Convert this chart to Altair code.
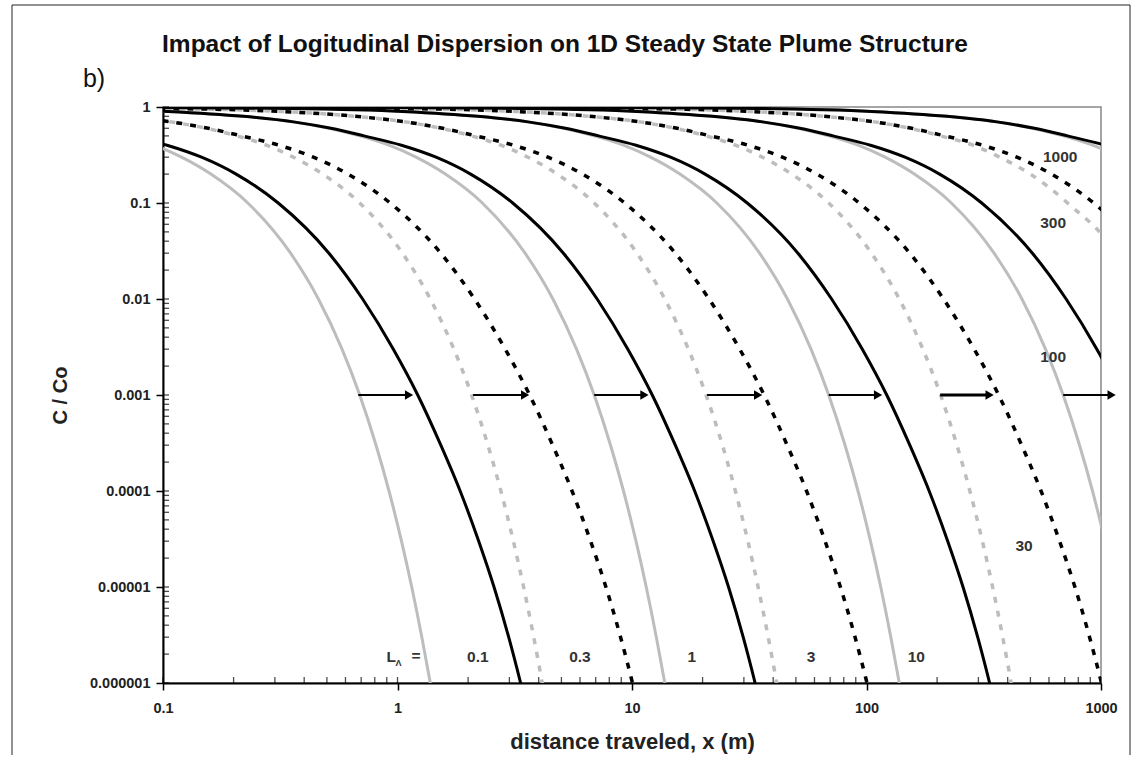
import altair as alt
import pandas as pd

# C/Co levels at which each curve's x-position was read
Y_LEVELS = [0.9999, 0.999, 0.99, 0.97, 0.9, 0.8, 0.7, 0.6, 0.5, 0.4, 0.3, 0.2, 0.1,
            0.03, 0.01, 3e-3, 1e-3, 3e-4, 1e-4, 3e-5, 1e-5, 3e-6, 1e-6, 3e-7]

L_NAMES = ["0.1", "0.3", "1", "3", "10", "30", "100", "300", "1000"]
L_DASHED = [False, True, False, True, False, True, False, True, False]

# grey curves (no dispersion), x at each Y level
GRAY_X = {
    "0.1": [0.00001, 0.0001, 0.001, 0.003, 0.0105, 0.022, 0.036, 0.051, 0.069, 0.092, 0.12, 0.16, 0.23, 0.35, 0.46, 0.58, 0.69, 0.81, 0.92, 1.04, 1.15, 1.27, 1.38, 1.5],
    "0.3": [0.00003, 0.0003, 0.003, 0.009, 0.0315, 0.066, 0.108, 0.153, 0.207, 0.276, 0.36, 0.48, 0.69, 1.05, 1.38, 1.74, 2.07, 2.43, 2.76, 3.12, 3.45, 3.81, 4.14, 4.5],
    "1": [0.0001, 0.001, 0.01, 0.03, 0.105, 0.22, 0.36, 0.51, 0.69, 0.92, 1.2, 1.6, 2.3, 3.5, 4.6, 5.8, 6.9, 8.1, 9.2, 10.4, 11.5, 12.7, 13.8, 15],
    "3": [0.0003, 0.003, 0.03, 0.09, 0.315, 0.66, 1.08, 1.53, 2.07, 2.76, 3.6, 4.8, 6.9, 10.5, 13.8, 17.4, 20.7, 24.3, 27.6, 31.2, 34.5, 38.1, 41.4, 45],
    "10": [0.001, 0.01, 0.1, 0.3, 1.05, 2.2, 3.6, 5.1, 6.9, 9.2, 12, 16, 23, 35, 46, 58, 69, 81, 92, 104, 115, 127, 138, 150],
    "30": [0.003, 0.03, 0.3, 0.9, 3.15, 6.6, 10.8, 15.3, 20.7, 27.6, 36, 48, 69, 105, 138, 174, 207, 243, 276, 312, 345, 381, 414, 450],
    "100": [0.01, 0.1, 1, 3, 10.5, 22, 36, 51, 69, 92, 120, 160, 230, 350, 460, 580, 690, 810, 920, 1040, 1150, 1270, 1380, 1500],
    "300": [0.03, 0.3, 3, 9, 31.5, 66, 108, 153, 207, 285, 370, 500, 720, 1150, 1450, 1800, 2100, 2450, 2800, 3150, 3500, 3850, 4200, 4550],
    "1000": [0.1, 1, 10, 30, 105, 220, 360, 510, 690, 920, 1200, 1600, 2300, 3500, 4600, 5800, 6900, 8100, 9200, 10400, 11500, 12700, 13800, 15000],
}

# black curves (with longitudinal dispersion), x at each Y level
BLACK_X = {
    "0.1": [0.00001, 0.0001, 0.001, 0.003, 0.0105, 0.022, 0.036, 0.052, 0.072, 0.104, 0.146, 0.205, 0.31, 0.51, 0.71, 0.96, 1.22, 1.53, 1.85, 2.22, 2.58, 2.98, 3.35, 3.77],
    "0.3": [0.00003, 0.0003, 0.003, 0.009, 0.0315, 0.066, 0.108, 0.156, 0.216, 0.312, 0.438, 0.615, 0.93, 1.53, 2.13, 2.88, 3.66, 4.59, 5.55, 6.66, 7.74, 8.94, 10.05, 11.31],
    "1": [0.0001, 0.001, 0.01, 0.03, 0.105, 0.22, 0.36, 0.52, 0.72, 1.04, 1.46, 2.05, 3.1, 5.1, 7.1, 9.6, 12.2, 15.3, 18.5, 22.2, 25.8, 29.8, 33.5, 37.7],
    "3": [0.0003, 0.003, 0.03, 0.09, 0.315, 0.66, 1.08, 1.56, 2.16, 3.12, 4.38, 6.15, 9.3, 15.3, 21.3, 28.8, 36.6, 45.9, 55.5, 66.6, 77.4, 89.4, 100.5, 113.1],
    "10": [0.001, 0.01, 0.1, 0.3, 1.05, 2.2, 3.6, 5.2, 7.2, 10.4, 14.6, 20.5, 31, 51, 71, 96, 122, 153, 185, 222, 258, 298, 335, 377],
    "30": [0.003, 0.03, 0.3, 0.9, 3.15, 6.6, 10.8, 15.6, 21.6, 31.2, 43.8, 61.5, 93, 153, 213, 288, 366, 459, 555, 666, 774, 894, 1005, 1131],
    "100": [0.01, 0.1, 1, 3, 10.5, 22, 36, 52, 72, 104, 146, 205, 310, 510, 710, 960, 1220, 1530, 1850, 2220, 2580, 2980, 3350, 3770],
    "300": [0.03, 0.3, 3, 9, 31.5, 66, 108, 156, 216, 312, 438, 615, 930, 1530, 2130, 2880, 3660, 4590, 5550, 6660, 7740, 8940, 10050, 11310],
    "1000": [0.1, 1, 10, 30, 105, 220, 360, 520, 720, 1040, 1460, 2050, 3100, 5100, 7100, 9600, 12200, 15300, 18500, 22200, 25800, 29800, 33500, 37700],
}

# arrows at C/Co = 0.001 (from grey curve to black curve)
ARROW_START = [0.68, 2.1, 6.9, 20.9, 69, 206, 690]
ARROW_END = [1.12, 3.5, 11.3, 34.5, 112, 335, 1110]
ARROW_Y = 0.001
ARROW_WIDTH = [2, 2, 2, 2, 2, 3, 2]

# curve labels
LABEL_TEXT = ["0.1", "0.3", "1", "3", "10", "30", "100", "300", "1000"]
LABEL_X = [2.2, 6.0, 18, 58, 163, 470, 625, 625, 670]
LABEL_Y = [1.87e-6, 1.87e-6, 1.87e-6, 1.87e-6, 1.87e-6, 2.7e-5, 0.0025, 0.062, 0.30]

X_TICKS = [0.1, 1, 10, 100, 1000]
Y_TICKS = [1e-6, 1e-5, 1e-4, 1e-3, 1e-2, 0.1, 1]
X_MINOR = [m * d for d in [0.1, 1, 10, 100] for m in range(1, 10)] + [1000]
Y_MINOR = [m * d for d in [1e-6, 1e-5, 1e-4, 1e-3, 1e-2, 0.1] for m in range(1, 10)] + [1]

W, H = 938, 576
FONT = "Liberation Sans"

rows = []
for i, name in enumerate(L_NAMES):
    for kind, table in (("gray", GRAY_X), ("black", BLACK_X)):
        for j, (xv, yv) in enumerate(zip(table[name], Y_LEVELS)):
            rows.append({"curve": kind + name, "kind": kind, "dashed": L_DASHED[i],
                         "x": xv, "y": yv, "idx": j})
curves = pd.DataFrame(rows)

xs = alt.Scale(type="log", domain=[0.1, 1000], nice=False)
ys = alt.Scale(type="log", domain=[1e-6, 1], nice=False)

x_axis = alt.Axis(values=X_TICKS, format=".1~f", grid=False, tickSize=7, tickWidth=1.5,
                  tickColor="black", domainColor="black", domainWidth=2,
                  labelFont=FONT, labelFontSize=14.5, labelFontWeight="bold", labelColor="#222",
                  labelPadding=11, labelFlush=False,
                  title="distance traveled, x (m)", titleFont=FONT, titleFontSize=22,
                  titleFontWeight="bold", titleColor="#222", titleX=469, titleY=58,
                  titleBaseline="middle")
y_axis = alt.Axis(values=Y_TICKS, format=".6~f", grid=False, tickSize=7, tickWidth=1.5,
                  tickColor="black", domainColor="black", domainWidth=2,
                  labelFont=FONT, labelFontSize=14.5, labelFontWeight="bold", labelColor="#222",
                  labelPadding=6, labelFlush=False,
                  title="C / Co", titleFont=FONT, titleFontSize=20, titleFontWeight="bold",
                  titleColor="#222", titleX=-103, titleY=288, titleBaseline="middle")

X = alt.X("x:Q", scale=xs, axis=x_axis)
Y = alt.Y("y:Q", scale=ys, axis=y_axis)

base = alt.Chart(curves).encode(x=X, y=Y, detail="curve:N", order="idx:Q")

gray_solid = base.transform_filter("datum.kind == 'gray' && !datum.dashed").mark_line(
    color="#bdbdbd", strokeWidth=3, clip=True, interpolate="monotone")
gray_dash = base.transform_filter("datum.kind == 'gray' && datum.dashed").mark_line(
    color="#bdbdbd", strokeWidth=3.5, strokeDash=[6, 8], strokeDashOffset=7, clip=True,
    interpolate="monotone")
black_solid = base.transform_filter("datum.kind == 'black' && !datum.dashed").mark_line(
    color="black", strokeWidth=3, clip=True, interpolate="monotone")
black_dash = base.transform_filter("datum.kind == 'black' && datum.dashed").mark_line(
    color="black", strokeWidth=3.5, strokeDash=[6, 8], clip=True, interpolate="monotone")

arrows_df = pd.DataFrame({"x": ARROW_START, "x2": ARROW_END,
                          "y": [ARROW_Y] * len(ARROW_START), "w": ARROW_WIDTH})
arrow_lines = alt.Chart(arrows_df).mark_rule(color="black").encode(
    x=X, x2="x2:Q", y=Y, strokeWidth=alt.StrokeWidth("w:Q", scale=None, legend=None))
heads_df = pd.DataFrame({"x": ARROW_END, "y": [ARROW_Y] * len(ARROW_END)})
arrow_heads = alt.Chart(heads_df).mark_point(
    shape="triangle-right", filled=True, color="black", size=90, opacity=1).encode(x=X, y=Y)

labels_df = pd.DataFrame({"x": LABEL_X, "y": LABEL_Y, "t": LABEL_TEXT})
labels = alt.Chart(labels_df).mark_text(
    font=FONT, fontSize=15.5, fontWeight="bold", color="#333").encode(x=X, y=Y, text="t:N")

llab_df = pd.DataFrame({"x": [0.94, 1.01, 1.20], "y": [1.87e-6, 1.6e-6, 1.9e-6],
                        "t": ["L", "\u039b", "="], "s": [15.5, 9, 15.5]})
llab = alt.Chart(llab_df).mark_text(font=FONT, fontWeight="bold", color="#333").encode(
    x=X, y=Y, text="t:N", size=alt.Size("s:Q", scale=None, legend=None))

xmin_df = pd.DataFrame({"x": X_MINOR})
x_minor = alt.Chart(xmin_df).mark_tick(color="black", thickness=1.3, size=6).encode(
    x=X, y=alt.value(H - 3))
ymin_df = pd.DataFrame({"y": Y_MINOR})
y_minor = alt.Chart(ymin_df).mark_tick(color="black", thickness=1.3, size=6).encode(
    y=Y, x=alt.value(3))

one = pd.DataFrame({"a": [0]})
title = alt.Chart(one).mark_text(
    text="Impact of Logitudinal Dispersion on 1D Steady State Plume Structure",
    font=FONT, fontSize=24.5, fontWeight="bold", color="#111").encode(
    x=alt.value(402), y=alt.value(-62))
panel = alt.Chart(one).mark_text(text="b)", font=FONT, fontSize=25, color="#111").encode(
    x=alt.value(-69), y=alt.value(-28))

frame_top = alt.Chart(one).mark_rule(color="#222", strokeWidth=1).encode(
    x=alt.value(-151), x2=alt.value(967), y=alt.value(-102))
frame_left = alt.Chart(one).mark_rule(color="#222", strokeWidth=1).encode(
    x=alt.value(-151), y=alt.value(-102), y2=alt.value(660))
frame_right = alt.Chart(one).mark_rule(color="#222", strokeWidth=1).encode(
    x=alt.value(967), y=alt.value(-102), y2=alt.value(660))

chart = alt.layer(
    gray_solid, gray_dash, black_solid, black_dash,
    arrow_lines, arrow_heads, labels, llab, x_minor, y_minor,
    title, panel, frame_top, frame_left, frame_right,
).properties(
    width=W, height=H,
    autosize=alt.AutoSizeParams(type="none"),
    padding={"left": 163, "top": 107, "right": 41, "bottom": 72},
    background="white",
).configure_view(stroke="#888", strokeWidth=1.5)

chart.save("out.html", embed_options={"renderer": "svg", "actions": False})
